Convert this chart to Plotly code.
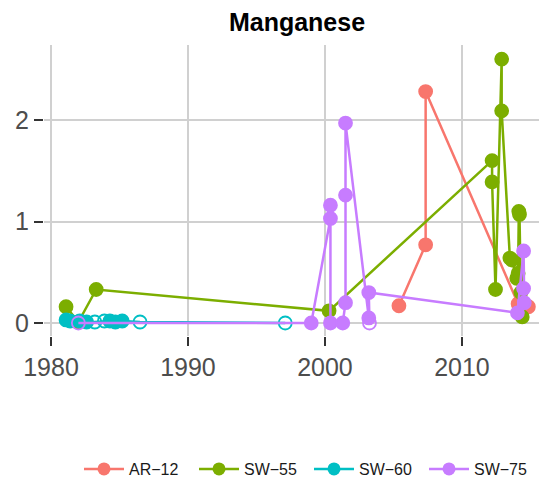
import plotly.graph_objects as go

# ---- data ----
series_names = ["AR\u221212", "SW\u221255", "SW\u221260", "SW\u221275"]
series_colors = ["#F8766D", "#7CAE00", "#00BFC4", "#C77CFF"]

ar12_year = [2005.4, 2007.35, 2007.35, 2014.1, 2014.85]
ar12_value = [0.17, 0.77, 2.28, 0.19, 0.16]
ar12_detected = [1, 1, 1, 1, 1]

sw55_year = [1981.1, 1982.0, 1983.3, 2000.3, 2012.2, 2012.2, 2012.45, 2012.9, 2012.9,
             2013.5, 2013.65, 2014.0, 2014.1, 2014.15, 2014.2, 2014.3, 2014.4]
sw55_value = [0.16, 0.01, 0.33, 0.12, 1.60, 1.39, 0.33, 2.60, 2.09,
              0.64, 0.62, 0.44, 0.49, 1.10, 1.07, 0.30, 0.06]
sw55_detected = [1] * 17

sw60_year = [1981.1, 1981.4, 1982.1, 1982.6, 1983.2, 1983.9, 1984.3, 1984.7, 1985.2, 1986.5, 1997.1]
sw60_value = [0.03, 0.02, 0.02, 0.01, 0.01, 0.02, 0.02, 0.01, 0.02, 0.01, 0.0]
sw60_detected = [1, 1, 1, 1, 0, 0, 1, 1, 1, 0, 0]

sw75_year = [1982.0, 1999.0, 2000.4, 2000.4, 2000.4, 2001.3, 2001.5, 2001.5, 2001.5,
             2003.2, 2003.25, 2003.2, 2014.05, 2014.5, 2014.5, 2014.55]
sw75_value = [0.0, 0.0, 1.03, 1.16, 0.0, 0.0, 0.20, 1.26, 1.97,
              0.05, 0.0, 0.30, 0.10, 0.71, 0.34, 0.20]
sw75_detected = [0, 1, 1, 1, 1, 1, 1, 1, 1, 1, 0, 1, 1, 1, 1, 1]

x_ticks = [1980, 1990, 2000, 2010]
y_ticks = [0, 1, 2]

series = [
    (ar12_year, ar12_value, ar12_detected),
    (sw55_year, sw55_value, sw55_detected),
    (sw60_year, sw60_value, sw60_detected),
    (sw75_year, sw75_value, sw75_detected),
]

fig = go.Figure()
for name, color, (xs, ys, det) in zip(series_names, series_colors, series):
    fig.add_trace(go.Scatter(
        x=xs, y=ys, mode="lines+markers", name=name, showlegend=False,
        line=dict(color=color, width=2.5),
        marker=dict(color=color, size=13,
                    symbol=["circle" if d else "circle-open" for d in det],
                    line=dict(color=color, width=1.8)),
    ))
# legend entries
for name, color in zip(series_names, series_colors):
    fig.add_trace(go.Scatter(
        x=[None], y=[None], mode="lines+markers", name=name,
        line=dict(color=color, width=2.5),
        marker=dict(color=color, size=13, symbol="circle"),
    ))

# page has an 8px body margin; figure is sized to fill the rest of the window
W, H = 539, 474
tick_font = dict(family="Liberation Sans, Arial, sans-serif", size=25, color="#4D4D4D")
fig.update_layout(
    width=W, height=H,
    paper_bgcolor="white", plot_bgcolor="white",
    margin=dict(l=36, r=3, t=37, b=146, autoexpand=False),
    title=dict(text="<b>Manganese</b>", x=289 / W, xanchor="center",
               y=1 - 14 / H, yanchor="middle",
               font=dict(family="Liberation Sans, Arial, sans-serif", size=25, color="black")),
    xaxis=dict(range=[1979.49, 2015.99], tickvals=x_ticks, ticktext=[str(t) for t in x_ticks],
               showgrid=True, gridcolor="#D0D0D0", gridwidth=2, zeroline=False,
               ticks="outside", ticklen=9, tickwidth=2, tickcolor="#333333",
               tickfont=tick_font, showline=False, automargin=False),
    yaxis=dict(range=[-0.128, 2.739], tickvals=y_ticks, ticktext=[str(t) for t in y_ticks],
               showgrid=True, gridcolor="#D0D0D0", gridwidth=2, zeroline=False,
               ticks="outside", ticklen=9, tickwidth=2, tickcolor="#333333",
               tickfont=tick_font, showline=False, automargin=False),
    legend=dict(orientation="h", x=0.07, xanchor="left", y=-0.457, yanchor="middle",
                font=dict(family="Liberation Sans, Arial, sans-serif", size=16, color="#1a1a1a"),
                bgcolor="rgba(0,0,0,0)", entrywidth=60, entrywidthmode="pixels",
                itemwidth=40, tracegroupgap=0),
)

fig.write_html("out.html")
